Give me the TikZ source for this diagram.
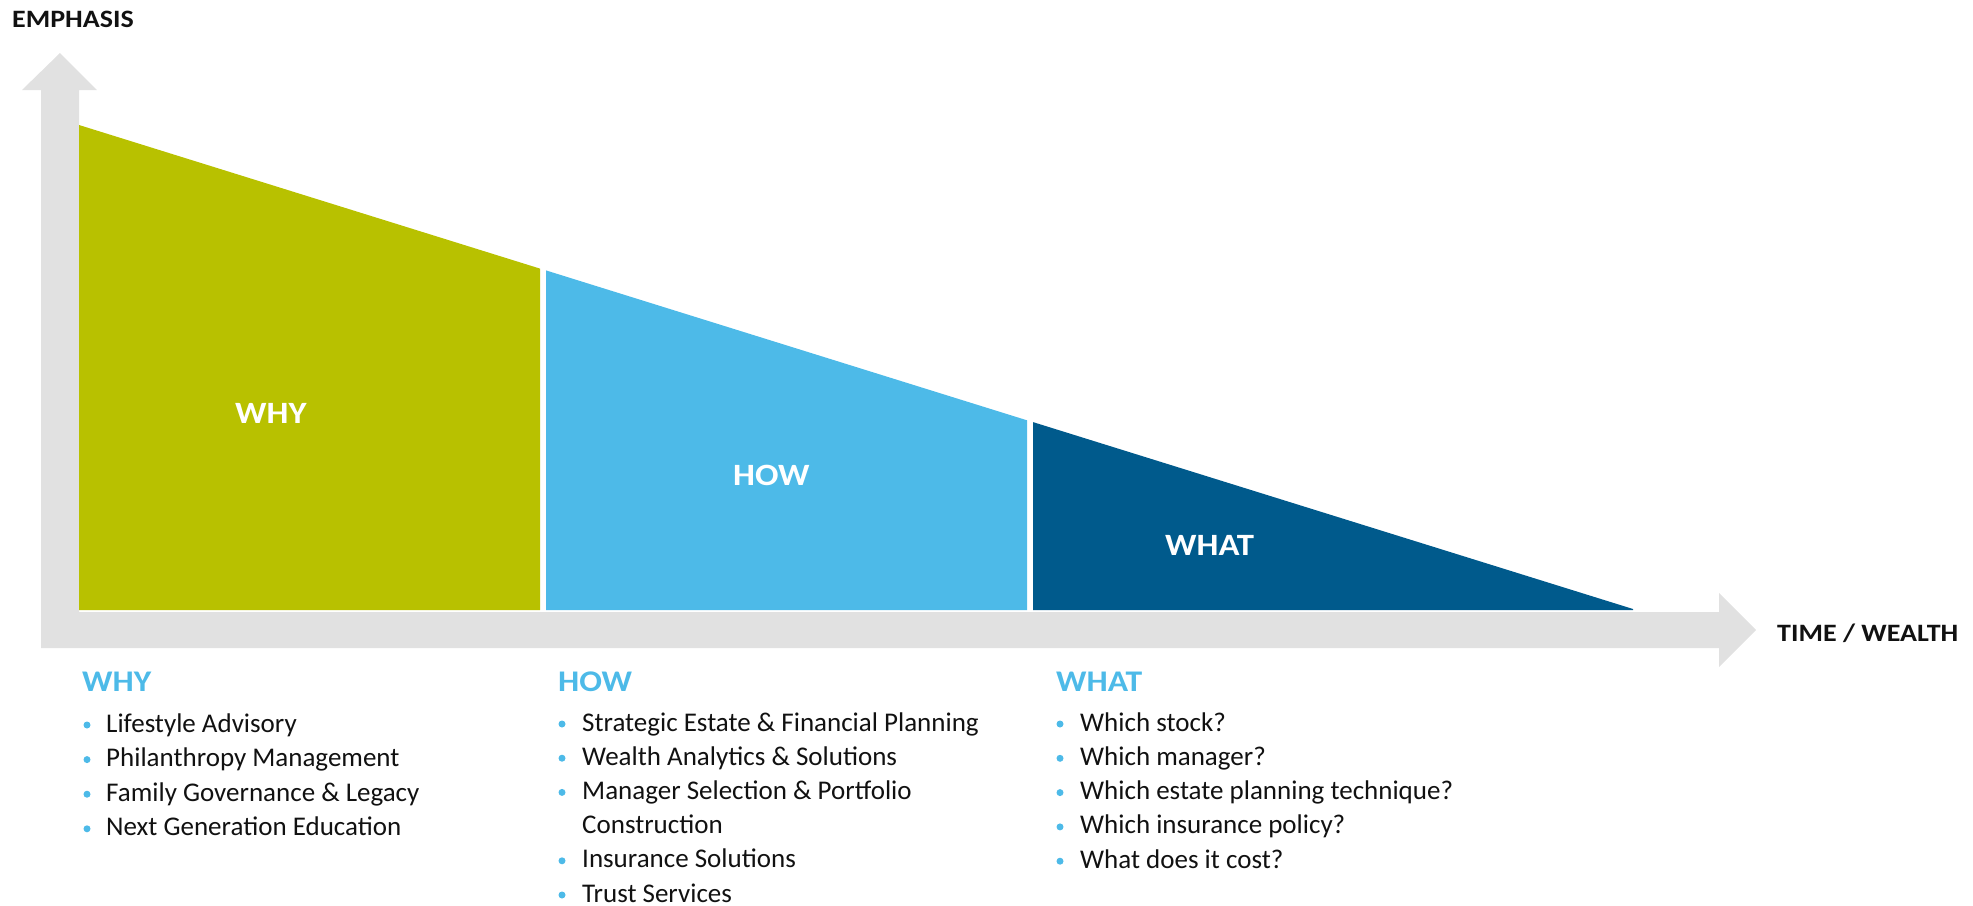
\documentclass[tikz,border=0pt]{standalone}
\usepackage{fontspec}
\setmainfont{Carlito}
\newfontfamily\widefont{Carlito}[FakeStretch=1.12]
\definecolor{cgreen}{HTML}{B8C100}
\definecolor{clblue}{HTML}{4DBAE8}
\definecolor{cdblue}{HTML}{005A8C}
\definecolor{cgrey}{HTML}{E1E1E1}
\definecolor{ctext}{HTML}{111111}
\begin{document}
\begin{tikzpicture}[x=1pt,y=-1pt,
  axislabel/.style={anchor=base west,inner sep=0pt,font=\widefont\fontsize{25}{28}\selectfont\bfseries,text=ctext},
  inlabel/.style={anchor=base west,inner sep=0pt,font=\widefont\fontsize{31}{34}\selectfont\bfseries,text=white},
  headlabel/.style={anchor=base west,inner sep=0pt,font=\widefont\fontsize{30}{34}\selectfont\bfseries,text=clblue},
  itemlabel/.style={anchor=base west,inner sep=0pt,font=\fontsize{27}{34}\selectfont,text=ctext},
  bulletdot/.style={fill=clblue}]
\useasboundingbox (0,0) rectangle (1973,905);
% grey L-shaped double arrow axes
\fill[cgrey] (41,648) -- (41,90) -- (22,90) -- (60,53) -- (97,90) -- (79,90) -- (79,612)
  -- (1719,612) -- (1719,593) -- (1756,630) -- (1719,667) -- (1719,648) -- cycle;
% triangle segments
\fill[cgreen] (79,125) -- (540,268.6) -- (540,610) -- (79,610) -- cycle;
\fill[clblue] (546,270.4) -- (1027,420.3) -- (1027,610) -- (546,610) -- cycle;
\fill[cdblue] (1033,422.1) -- (1633,609) -- (1633,610) -- (1033,610) -- cycle;
% axis labels
\node[axislabel] (emph) at (12,27) {EMPHASIS};
\node[axislabel] (time) at (1777,641) {TIME / WEALTH};
% labels in the triangle
\node[inlabel] (lwhy) at (235,423) {WHY};
\node[inlabel] (lhow) at (733,485) {HOW};
\node[inlabel] (lwhat) at (1165,555) {WHAT};
% headings
\node[headlabel] (hwhy) at (82,691) {WHY};
\node[headlabel] (hhow) at (558,691) {HOW};
\node[headlabel] (hwhat) at (1056,691) {WHAT};
% WHY list
\foreach \t [count=\i] in {Lifestyle Advisory,Philanthropy Management,Family Governance \& Legacy,Next Generation Education}{
  \node[itemlabel] (why\i) at (106,{732+34.6*(\i-1)}) {\t};
  \fill[bulletdot] (87,{725+34.6*(\i-1)}) circle (3.5);
}
% HOW list
\node[itemlabel] (how1) at (582,731) {Strategic Estate \& Financial Planning};
\node[itemlabel] (how2) at (582,765.2) {Wealth Analytics \& Solutions};
\node[itemlabel] (how3) at (582,799.4) {Manager Selection \& Portfolio};
\node[itemlabel] (how3b) at (582,833.6) {Construction};
\node[itemlabel] (how4) at (582,867.8) {Insurance Solutions};
\node[itemlabel] (how5) at (582,902) {Trust Services};
\foreach \yy in {731,765.2,799.4,867.8,902}{
  \fill[bulletdot] (562,\yy-7) circle (3.5);
}
% WHAT list
\foreach \t [count=\i] in {Which stock?,Which manager?,Which estate planning technique?,Which insurance policy?,What does it cost?}{
  \node[itemlabel] (what\i) at (1080,{731+34.3*(\i-1)}) {\t};
  \fill[bulletdot] (1060,{724+34.3*(\i-1)}) circle (3.5);
}
\end{tikzpicture}
\end{document}
